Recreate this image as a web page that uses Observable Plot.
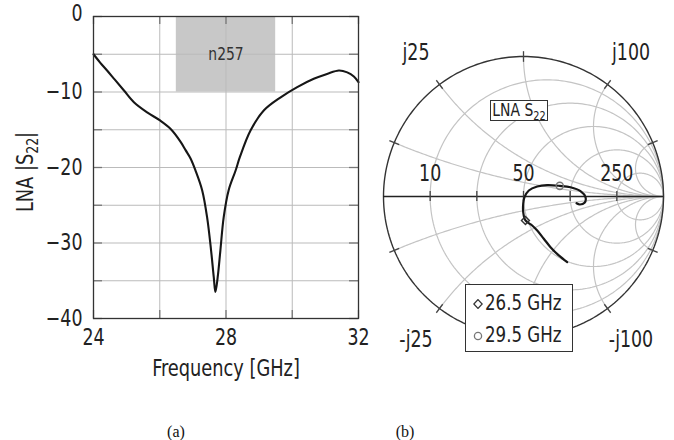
<!DOCTYPE html>
<html>
<head>
<meta charset="utf-8">
<script src="https://cdn.jsdelivr.net/npm/d3@7"></script>
<script src="https://cdn.jsdelivr.net/npm/@observablehq/plot@0.6"></script>
<style>
  body { margin: 0; background: #fff; }
  #wrap { position: relative; width: 674px; height: 440px; overflow: hidden; background: #fff;
    font-family: "DejaVu Sans Condensed", "DejaVu Sans", sans-serif; font-stretch: condensed; color: #222; }
  #wrap svg { position: absolute; top: 0; }
  .ov { position: absolute; white-space: nowrap; }
  .sub { font-size: 0.7em; position: relative; top: 0.28em; }
  .cap { font-family: "Liberation Serif", "DejaVu Serif", serif; font-size: 16px; color: #111; transform: translate(-50%, -50%); font-stretch: normal; }
  #ylab { left: 25px; top: 172px; font-size: 23px; transform: translate(-50%, -50%) rotate(-90deg) scaleX(0.86); }
  #s22box { left: 490px; top: 100px; width: 56px; height: 19px; border: 1px solid #333; background: #fff;
    font-size: 18px; line-height: 18px; text-align: center; }
  #s22box span.t { display: inline-block; transform: scaleX(0.86); transform-origin: center; margin-left: -10px; margin-right: -10px; }
  #legend { left: 465px; top: 284px; width: 106px; height: 66px; border: 1px solid #333; background: #fff; font-size: 21.5px; }
  #legend .row { position: absolute; left: 0; height: 30px; line-height: 30px; }
  #legend svg { position: absolute; left: 7px; top: 11px; }
  #legend span { position: absolute; left: 19px; transform: scaleX(0.86); transform-origin: left center; }
</style>
</head>
<body>
<div id="wrap"></div>
<script>
// ---------- Data: (a) LNA |S22| vs frequency ----------
const freqGHz = [24.0, 24.2, 24.41, 24.65, 24.92, 25.22, 25.62, 26.02, 26.33, 26.63, 26.78, 26.93, 27.08, 27.28,
  27.43, 27.55, 27.63, 27.68, 27.75, 27.83, 27.93, 28.08, 28.29, 28.42, 28.74, 29.14, 29.65, 30.15, 30.65,
  31.05, 31.41, 31.66, 31.86, 32.0];
const s22dB = [-5.0, -6.1, -7.15, -8.4, -9.8, -11.35, -12.7, -13.8, -14.9, -16.6, -17.7, -18.8, -20.4, -23.0,
  -26.6, -31.0, -34.5, -36.5, -34.5, -31.0, -26.6, -23.0, -20.4, -18.6, -15.1, -12.45, -10.7, -9.35, -8.25,
  -7.6, -7.15, -7.4, -7.95, -8.7];
const bandName = "n257";
const bandFreqs = [26.5, 29.5];
const bandLevels = [-10, 0];
const xTicks = [24, 28, 32];
const xGrid = [24, 26, 28, 30, 32];
const yTicks = [0, -10, -20, -30, -40];
const yGrid = [0, -5, -10, -15, -20, -25, -30, -35, -40];
const xTitle = "Frequency [GHz]";

// ---------- Data: (b) Smith chart of LNA S22 ----------
const gammaRe = [0.312, 0.252, 0.193, 0.145, 0.098, 0.062, 0.014, -0.002, -0.002, 0.007, 0.038, 0.098, 0.169,
  0.259, 0.336, 0.407, 0.443, 0.436, 0.402, 0.379];
const gammaIm = [-0.469, -0.421, -0.362, -0.302, -0.243, -0.207, -0.171, -0.112, -0.052, -0.005, 0.043, 0.071, 0.081,
  0.076, 0.066, 0.038, -0.005, -0.045, -0.057, -0.048];
const markerLabels = ["26.5 GHz", "29.5 GHz"];
const markerRe = [0.014, 0.259];
const markerIm = [-0.171, 0.076];
const resistanceGrid = [0.2, 0.5, 1, 2, 5];
const reactanceGrid = [0.2, 0.5, 1, 2, 5, -0.2, -0.5, -1, -2, -5];
const resistanceLabelValues = [0.2, 1, 5];
const resistanceLabels = ["10", "50", "250"];
const reactanceLabelValues = [0.5, 2, -0.5, -2];
const reactanceLabels = ["j25", "j100", "-j25", "-j100"];
const captions = ["(a)", "(b)"];

const FONT = '"DejaVu Sans Condensed", "DejaVu Sans", sans-serif';
const SQUEEZE = 0.86;
const wrap = document.getElementById("wrap");

function squeezeText(svg) {
  svg.querySelectorAll("text").forEach(t => {
    const tr = t.getAttribute("transform");
    if (tr) t.setAttribute("transform", tr + ` scale(${SQUEEZE},1)`);
    else {
      const x = +(t.getAttribute("x") || 0);
      t.setAttribute("transform", `translate(${x},0) scale(${SQUEEZE},1) translate(${-x},0)`);
    }
  });
}

// ================= (a) =================
const curve = freqGHz.map((f, i) => ({f, db: s22dB[i]}));
const band = [{x1: bandFreqs[0], x2: bandFreqs[1], y1: bandLevels[0], y2: bandLevels[1], name: bandName}];
const innerH = 302, innerW = 265;
const left = Plot.plot({
  width: 370, height: 400,
  marginLeft: 93, marginRight: 12, marginTop: 16, marginBottom: 82,
  style: {fontFamily: FONT, fontSize: "22px", color: "#222", background: "transparent", overflow: "visible"},
  x: {domain: [24, 32]},
  y: {domain: [-40, 0]},
  marks: [
    Plot.rect(band, {x1: "x1", x2: "x2", y1: "y1", y2: "y2", fill: "#c8c8c8"}),
    Plot.gridX(xGrid, {stroke: "#bbb", strokeOpacity: 1, strokeWidth: 1}),
    Plot.gridY(yGrid, {stroke: "#bbb", strokeOpacity: 1, strokeWidth: 1}),
    Plot.text(band, {x: d => (d.x1 + d.x2) / 2, y: d => (d.y1 + d.y2) / 2, text: "name", fontSize: 18, fill: "#333"}),
    // inward ticks on all four frame edges
    Plot.tickX(xGrid, {x: d => d, insetTop: innerH - 8, stroke: "#777", strokeWidth: 1.3}),
    Plot.tickX(xGrid, {x: d => d, insetBottom: innerH - 8, stroke: "#777", strokeWidth: 1.3}),
    Plot.tickY(yGrid, {y: d => d, insetRight: innerW - 9, stroke: "#777", strokeWidth: 1.3}),
    Plot.tickY(yGrid, {y: d => d, insetLeft: innerW - 9, stroke: "#777", strokeWidth: 1.3}),
    Plot.line(curve, {x: "f", y: "db", stroke: "#161616", strokeWidth: 2.1, curve: "catmull-rom"}),
    Plot.frame({stroke: "#333", strokeWidth: 1.3}),
    Plot.axisY({ticks: yTicks.filter(d => d !== 0), tickSize: 0, tickPadding: 11, label: null, fontSize: 22.5}),
    Plot.axisY({ticks: yTicks.filter(d => d === 0), tickSize: 0, tickPadding: 11, label: null, fontSize: 22.5, dy: -3}),
    Plot.axisX({ticks: xTicks, tickSize: 0, tickPadding: 11, label: null, fontSize: 22.5}),
    Plot.text([xTitle], {frameAnchor: "bottom", dy: 57, text: d => d, fontSize: 23, fill: "#222"})
  ]
});
left.style.left = "0px";
squeezeText(left);
wrap.appendChild(left);

// ================= (b) Smith chart =================
function circlePoints(cx, cy, rad, id, n = 240) {
  return d3.range(n + 1).map(i => {
    const t = 2 * Math.PI * i / n;
    return {id, re: cx + rad * Math.cos(t), im: cy + rad * Math.sin(t)};
  });
}
function reactanceArc(x, id, n = 160) {
  const ax = Math.abs(x);
  const g0 = [(ax * ax - 1) / (ax * ax + 1), 2 * ax / (ax * ax + 1)];
  let t0 = Math.atan2(g0[1] - 1 / ax, g0[0] - 1);
  if (t0 < 0) t0 += 2 * Math.PI;
  const t1 = 1.5 * Math.PI;
  const s = Math.sign(x);
  return d3.range(n + 1).map(i => {
    const t = t0 + (t1 - t0) * i / n;
    return {id, re: 1 + Math.cos(t) / ax, im: s * (1 / ax + Math.sin(t) / ax)};
  });
}
const gridLines = [];
resistanceGrid.forEach(r => gridLines.push(...circlePoints(r / (1 + r), 0, 1 / (1 + r), "r" + r)));
reactanceGrid.forEach(x => gridLines.push(...reactanceArc(x, "x" + x)));
const outer = circlePoints(0, 0, 1, "outer");
const edgeAngle = x => Math.PI - 2 * Math.atan(x); // angle on unit circle of pure reactance x
const trace = gammaRe.map((re, i) => ({re, im: gammaIm[i]}));
const markers = markerLabels.map((label, i) => ({label, re: markerRe[i], im: markerIm[i], sym: i === 0 ? "diamond2" : "circle"}));
const rLab = resistanceLabelValues.map((r, i) => ({re: (r - 1) / (r + 1), im: 0, text: resistanceLabels[i]}));
const xLab = reactanceLabelValues.map((x, i) => {
  const a = x > 0 ? edgeAngle(x) : -edgeAngle(-x);
  return {re: 1.28 * Math.cos(a), im: 1.28 * Math.sin(a), text: reactanceLabels[i]};
});
const rTicks = resistanceGrid.map(r => ({re: (r - 1) / (r + 1)}));
const xTicksS = reactanceGrid.map(x => {
  const a = x > 0 ? edgeAngle(x) : -edgeAngle(-x);
  return {x1: 0.962 * Math.cos(a), y1: 0.962 * Math.sin(a), x2: 1.038 * Math.cos(a), y2: 1.038 * Math.sin(a)};
});
const right = Plot.plot({
  width: 304, height: 400,
  marginLeft: 13, marginRight: 11, marginTop: 56, marginBottom: 64,
  style: {fontFamily: FONT, fontSize: "22px", color: "#222", background: "transparent", overflow: "visible"},
  x: {domain: [-1, 1], axis: null},
  y: {domain: [-1, 1], axis: null},
  marks: [
    Plot.line(gridLines, {x: "re", y: "im", z: "id", stroke: "#c4c4c4", strokeWidth: 1.2}),
    Plot.line(outer, {x: "re", y: "im", stroke: "#333", strokeWidth: 1.4}),
    Plot.ruleY([0], {x1: -1, x2: 1, stroke: "#222", strokeWidth: 1.4}),
    Plot.ruleX(rTicks, {x: "re", y1: -0.036, y2: 0.036, stroke: "#444", strokeWidth: 1.3}),
    Plot.link(xTicksS, {x1: "x1", y1: "y1", x2: "x2", y2: "y2", stroke: "#444", strokeWidth: 1.3}),
    Plot.text(rLab, {x: "re", y: "im", text: "text", dy: -23, fontSize: 22.5, fill: "#222"}),
    Plot.text(xLab, {x: "re", y: "im", text: "text", fontSize: 22.5, fill: "#222"}),
    Plot.line(trace, {x: "re", y: "im", stroke: "#161616", strokeWidth: 2.2, curve: "catmull-rom"}),
    Plot.dot(markers, {x: "re", y: "im", symbol: "sym", r: 3.6, stroke: d => d.sym === "circle" ? "#777" : "#333", strokeWidth: 1.4, fill: "none"})
  ]
});
right.style.left = "370px";
squeezeText(right);
wrap.appendChild(right);

// ---------- overlay texts ----------
function addDiv(id, cls, html, style) {
  const d = document.createElement("div");
  if (id) d.id = id;
  d.className = cls;
  d.innerHTML = html;
  if (style) Object.assign(d.style, style);
  wrap.appendChild(d);
  return d;
}
addDiv("ylab", "ov", 'LNA |S<span class="sub">22</span>|');
addDiv("s22box", "ov", '<span class="t">LNA S<span class="sub">22</span></span>');
const legendHTML = markers.map((m, i) => {
  const icon = m.sym === "circle"
    ? '<svg width="10" height="10"><circle cx="5" cy="5" r="3.6" fill="none" stroke="#777" stroke-width="1.3"/></svg>'
    : '<svg width="10" height="10"><path d="M5 0.6 L9.2 5 L5 9.4 L0.8 5 Z" fill="none" stroke="#333" stroke-width="1.3"/></svg>';
  return `<div class="row" style="top:${i === 0 ? 3 : 35}px">${icon}<span>${m.label}</span></div>`;
}).join("");
addDiv("legend", "ov", legendHTML);
addDiv(null, "ov cap", captions[0], {left: "176px", top: "432px"});
addDiv(null, "ov cap", captions[1], {left: "405px", top: "432px"});
</script>
</body>
</html>
